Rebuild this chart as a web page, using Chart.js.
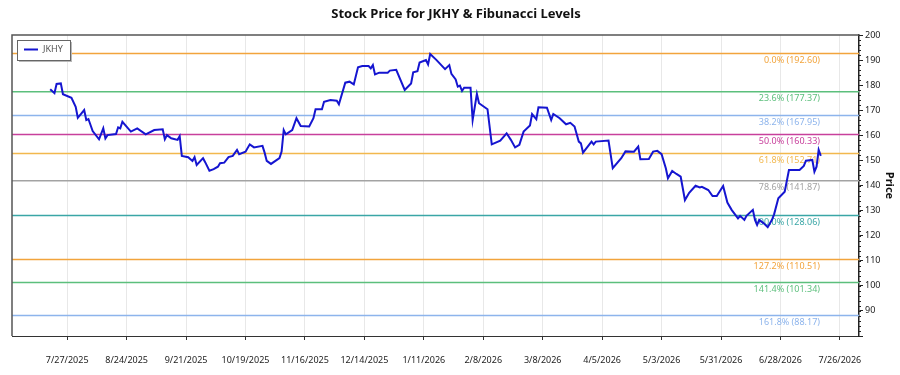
<!DOCTYPE html>
<html>
<head>
<meta charset="utf-8">
<title>JKHY Fibonacci</title>
<script src="https://cdn.jsdelivr.net/npm/chart.js@4.4.1/dist/chart.umd.min.js"></script>
<style>
  html, body { margin: 0; padding: 0; background: #fff; }
</style>
</head>
<body>
<canvas id="chart" width="900" height="375"></canvas>
<script>
// price series
const priceDates = [
  '7/19/2025','7/21/2025','7/22/2025','7/24/2025','7/25/2025','7/29/2025','7/31/2025','8/1/2025','8/4/2025','8/5/2025',
  '8/6/2025','8/8/2025','8/11/2025','8/13/2025','8/14/2025','8/15/2025','8/19/2025','8/20/2025','8/21/2025','8/22/2025',
  '8/26/2025','8/29/2025','9/2/2025','9/6/2025','9/10/2025','9/11/2025','9/12/2025','9/14/2025','9/17/2025','9/18/2025',
  '9/19/2025','9/22/2025','9/24/2025','9/25/2025','9/26/2025','9/29/2025','9/30/2025','10/2/2025','10/4/2025','10/6/2025',
  '10/7/2025','10/9/2025','10/11/2025','10/13/2025','10/15/2025','10/16/2025','10/19/2025','10/21/2025','10/23/2025','10/27/2025',
  '10/28/2025','10/29/2025','10/31/2025','11/4/2025','11/5/2025','11/6/2025','11/7/2025','11/10/2025','11/12/2025','11/14/2025',
  '11/18/2025','11/20/2025','11/21/2025','11/24/2025','11/25/2025','11/28/2025','12/1/2025','12/2/2025','12/5/2025','12/7/2025',
  '12/9/2025','12/11/2025','12/13/2025','12/16/2025','12/17/2025','12/18/2025','12/19/2025','12/21/2025','12/25/2025','12/26/2025',
  '12/29/2025','1/2/2026','1/5/2026','1/6/2026','1/8/2026','1/9/2026','1/12/2026','1/13/2026','1/14/2026','1/17/2026',
  '1/21/2026','1/23/2026','1/24/2026','1/26/2026','1/27/2026','1/28/2026','1/29/2026','1/30/2026','2/2/2026','2/3/2026',
  '2/5/2026','2/6/2026','2/10/2026','2/12/2026','2/16/2026','2/19/2026','2/21/2026','2/23/2026','2/25/2026','2/27/2026',
  '3/2/2026','3/3/2026','3/5/2026','3/6/2026','3/10/2026','3/12/2026','3/13/2026','3/16/2026','3/19/2026','3/21/2026',
  '3/23/2026','3/25/2026','3/26/2026','3/27/2026','3/31/2026','4/1/2026','4/2/2026','4/8/2026','4/10/2026','4/14/2026',
  '4/16/2026','4/20/2026','4/22/2026','4/23/2026','4/27/2026','4/29/2026','5/1/2026','5/3/2026','5/5/2026','5/6/2026',
  '5/8/2026','5/10/2026','5/12/2026','5/14/2026','5/16/2026','5/19/2026','5/21/2026','5/22/2026','5/25/2026','5/27/2026',
  '5/29/2026','6/1/2026','6/3/2026','6/5/2026','6/8/2026','6/9/2026','6/11/2026','6/12/2026','6/15/2026','6/16/2026',
  '6/17/2026','6/18/2026','6/20/2026','6/22/2026','6/24/2026','6/25/2026','6/27/2026','6/30/2026','7/2/2026','7/7/2026',
  '7/9/2026','7/10/2026','7/13/2026','7/14/2026','7/15/2026','7/16/2026','7/17/2026'
];
const priceValues = [
  178.4,176.8,180.5,180.7,176.4,175.0,171.4,167.0,170.1,166.1,
  166.5,161.7,158.4,162.8,158.8,160.1,160.5,163.2,162.8,165.4,
  161.5,162.8,160.4,162.1,162.4,158.4,160.1,158.8,158.2,159.7,
  151.8,151.3,149.8,151.3,148.2,150.9,149.3,145.9,146.5,147.5,
  148.9,149.1,151.3,151.8,154.2,152.5,153.5,156.4,155.2,155.8,
  153.1,149.8,148.6,150.9,153.5,162.1,160.4,162.1,166.8,163.7,
  163.5,166.8,170.4,170.4,173.4,174.1,173.8,172.4,181.0,181.4,
  180.3,187.1,187.6,187.6,186.7,188.0,184.3,185.0,185.0,185.8,
  186.1,178.1,180.7,185.1,185.6,189.0,190.0,188.3,192.4,190.0,
  186.4,188.0,184.5,182.3,179.4,179.8,177.7,179.0,179.0,166.1,
  176.5,172.8,170.4,156.4,157.9,160.8,158.2,155.2,156.2,161.5,
  163.9,168.5,166.4,171.2,171.0,166.1,168.5,166.8,164.4,165.0,
  163.5,157.5,156.8,153.1,157.5,156.4,157.5,157.9,146.9,150.9,
  153.6,153.5,155.5,150.5,150.6,153.5,153.8,152.5,146.9,142.9,
  145.8,144.6,143.5,134.2,137.1,139.9,139.2,139.5,138.2,135.8,
  135.8,139.8,133.2,130.3,126.9,127.9,126.3,127.9,130.3,126.3,
  124.3,126.3,125.0,123.4,126.3,128.5,134.9,137.5,146.2,146.2,
  147.8,149.9,150.2,145.5,147.5,154.2,151.8
];

const fibLabels = ['0.0%', '23.6%', '38.2%', '50.0%', '61.8%', '78.6%', '100.0%', '127.2%', '141.4%', '161.8%'];
const fibValues = [192.60, 177.37, 167.95, 160.33, 152.71, 141.87, 128.06, 110.51, 101.34, 88.17];
const fibColors = ['#f2a43c', '#5cbf7c', '#8db4ec', '#c8409c', '#f2b84e', '#a3a3a3', '#3aa6a6', '#f2a43c', '#5cbf7c', '#8db4ec'];

const tickLabels = ['7/27/2025', '8/24/2025', '9/21/2025', '10/19/2025', '11/16/2025', '12/14/2025', '1/11/2026',
  '2/8/2026', '3/8/2026', '4/5/2026', '5/3/2026', '5/31/2026', '6/28/2026', '7/26/2026'];
const xRange = ['7/1/2025', '8/4/2026'];
const yRange = [80, 200];

function toDay(s) {
  const p = s.split('/').map(Number);
  return Date.UTC(p[2], p[0] - 1, p[1]) / 86400000;
}
function fmtDay(v) {
  const d = new Date(Math.round(v) * 86400000);
  return (d.getUTCMonth() + 1) + '/' + d.getUTCDate() + '/' + d.getUTCFullYear();
}

const xMin = toDay(xRange[0]);
const xMax = toDay(xRange[1]);

const priceData = priceDates.map((d, i) => ({ x: toDay(d), y: priceValues[i] }));

const fibSets = fibValues.map((v, i) => ({
  label: fibLabels[i],
  data: [{ x: xMin, y: v }, { x: xMax, y: v }],
  borderColor: fibColors[i],
  backgroundColor: fibColors[i],
  borderWidth: 1.5,
  pointRadius: 0,
  order: 2
}));

// fib labels under the price line
const fibText = {
  id: 'fibText',
  beforeDatasetsDraw(chart) {
    const ctx = chart.ctx;
    const ys = chart.scales.y;
    const x = chart.chartArea.right - 39;
    ctx.save();
    ctx.font = '9px "Noto Sans"';
    ctx.textAlign = 'right';
    ctx.textBaseline = 'middle';
    fibValues.forEach((v, i) => {
      ctx.fillStyle = fibColors[i];
      ctx.fillText(fibLabels[i] + ' (' + v.toFixed(2) + ')', x, ys.getPixelForValue(v) + 7);
    });
    ctx.restore();
  }
};

// frame, minor ticks and boxed legend
const extras = {
  id: 'extras',
  afterDraw(chart) {
    const ctx = chart.ctx;
    const a = chart.chartArea;
    const ys = chart.scales.y;
    ctx.save();
    ctx.strokeStyle = '#555';
    ctx.lineWidth = 1.5;
    ctx.beginPath();
    ctx.moveTo(a.left, a.bottom);
    ctx.lineTo(a.left, a.top);
    ctx.lineTo(a.right, a.top);
    ctx.stroke();

    // minor ticks on price axis
    ctx.strokeStyle = '#222';
    ctx.lineWidth = 1;
    ctx.beginPath();
    for (let v = yRange[0]; v <= yRange[1]; v += 2) {
      const y = Math.round(ys.getPixelForValue(v)) + 0.5;
      ctx.moveTo(a.right, y);
      ctx.lineTo(a.right + 2, y);
    }
    ctx.stroke();

    // legend box
    const lx = a.left + 5, ly = a.top + 5, lw = 53, lh = 20;
    ctx.fillStyle = '#b8b8b8';
    ctx.fillRect(lx + 2, ly + 2, lw, lh);
    ctx.fillStyle = '#fff';
    ctx.fillRect(lx, ly, lw, lh);
    ctx.strokeStyle = '#666';
    ctx.strokeRect(lx + 0.5, ly + 0.5, lw, lh);
    ctx.strokeStyle = '#1515d0';
    ctx.lineWidth = 2;
    ctx.beginPath();
    ctx.moveTo(lx + 7, ly + 9.5);
    ctx.lineTo(lx + 21, ly + 9.5);
    ctx.stroke();
    ctx.fillStyle = '#555';
    ctx.font = '9px "Noto Sans"';
    ctx.textBaseline = 'middle';
    ctx.fillText('JKHY', lx + 26, ly + 9.5);
    ctx.restore();
  }
};

new Chart(document.getElementById('chart'), {
  type: 'line',
  data: {
    datasets: [
      {
        label: 'JKHY',
        data: priceData,
        borderColor: '#1515d0',
        borderWidth: 2,
        pointRadius: 0,
        tension: 0,
        order: 1
      },
      ...fibSets
    ]
  },
  options: {
    responsive: false,
    animation: false,
    layout: { padding: { left: 12, right: 0, top: 0, bottom: 0 } },
    plugins: {
      legend: { display: false },
      tooltip: { enabled: false },
      title: {
        display: true,
        text: 'Stock Price for JKHY & Fibunacci Levels',
        color: '#111',
        font: { family: '"Noto Sans"', size: 13, weight: 'bold' },
        padding: { top: 6, bottom: 13.4 }
      }
    },
    scales: {
      x: {
        type: 'linear',
        min: xMin,
        max: xMax,
        afterBuildTicks: s => { s.ticks = tickLabels.map(t => ({ value: toDay(t) })); },
        afterFit: s => { s.height = 39; },
        grid: { color: '#e8e8e8', tickColor: '#333', tickLength: 4 },
        border: { color: '#333', width: 1 },
        ticks: {
          color: '#222',
          font: { family: '"Noto Sans"', size: 9 },
          padding: 15,
          maxRotation: 0,
          autoSkip: false,
          callback: v => fmtDay(v)
        }
      },
      y: {
        position: 'right',
        min: yRange[0],
        max: yRange[1],
        afterFit: s => { s.width = 41; },
        grid: { drawOnChartArea: false, tickColor: '#222', tickLength: 4 },
        border: { color: '#222', width: 1.5 },
        ticks: {
          stepSize: 10,
          color: '#222',
          padding: 2,
          font: { family: '"Noto Sans"', size: 9 },
          callback: v => (v === yRange[0] ? '' : v)
        },
        title: {
          display: true,
          text: 'Price',
          color: '#111',
          font: { family: '"Noto Sans"', size: 11, weight: 'bold' }
        }
      }
    }
  },
  plugins: [fibText, extras]
});
</script>
</body>
</html>
